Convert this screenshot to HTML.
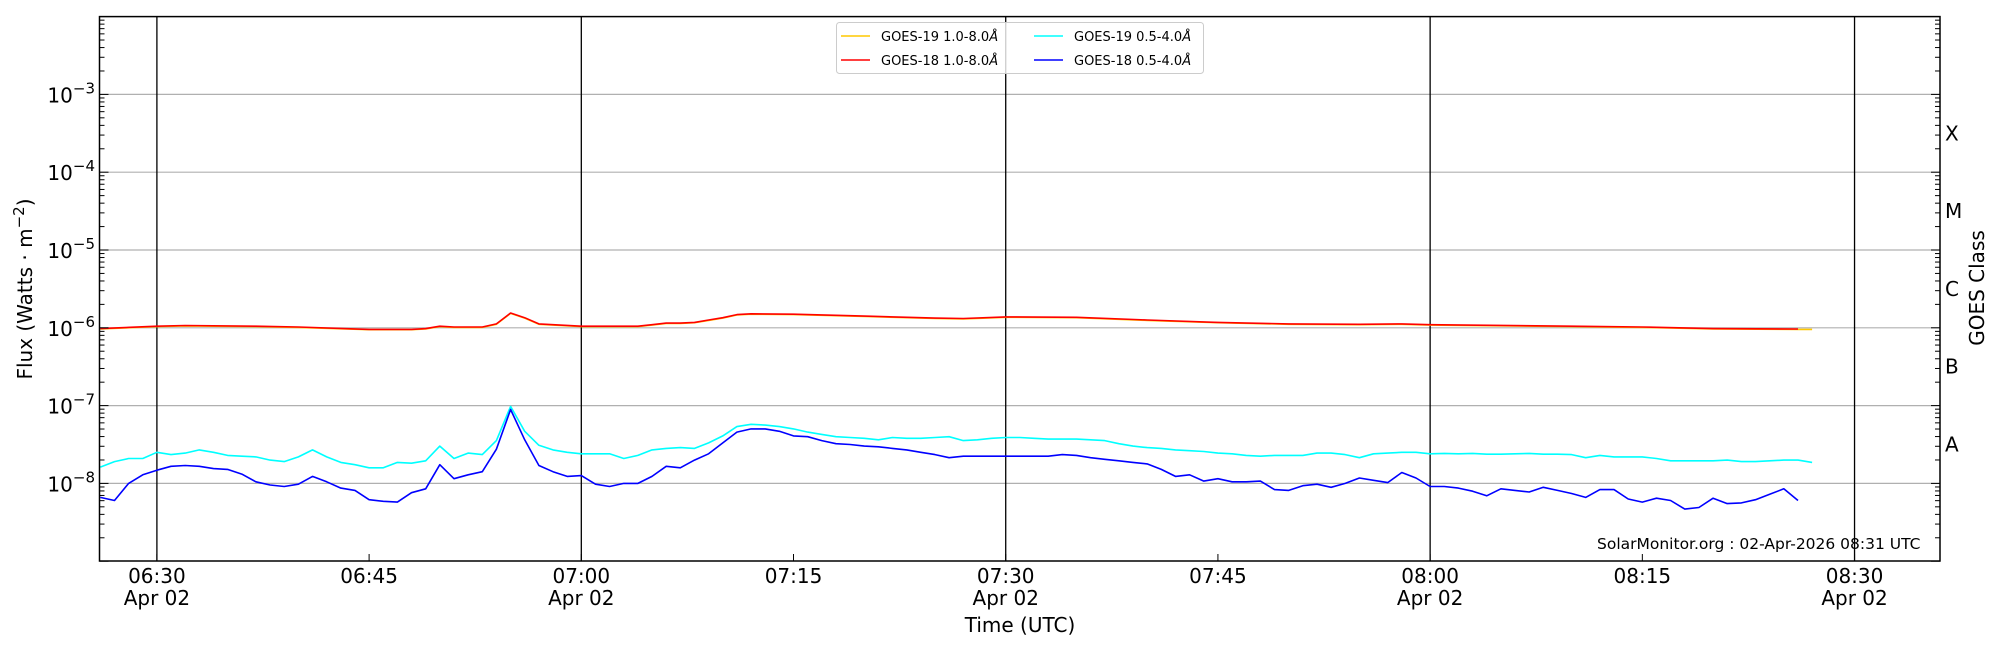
<!DOCTYPE html>
<html><head><meta charset="utf-8"><style>
html,body{margin:0;padding:0;background:#fff;}
svg{display:block;font-family:"DejaVu Sans","Liberation Sans",sans-serif;}
</style></head><body>
<svg id="s" width="2000" height="650" viewBox="0 0 2000 650" xmlns="http://www.w3.org/2000/svg">
<rect width="2000" height="650" fill="#fff"/>
<g id="grid"></g>
<g id="data" fill="none" stroke-width="1.6" stroke-linejoin="round"></g>
<g id="frame"></g>
<g id="labels" font-size="20" fill="#000"></g>
<text x="1597" y="549" font-size="15.5">SolarMonitor.org : 02-Apr-2026 08:31 UTC</text>
<g font-size="13">
<rect x="836.5" y="22.5" width="367" height="51" fill="#fff" fill-opacity="0.8" stroke="#ccc" rx="3"/>
<line x1="841" y1="36" x2="870" y2="36" stroke="#ffc800" stroke-width="1.5"/>
<text x="881" y="41">GOES-19 1.0-8.0<tspan font-style="italic">Å</tspan></text>
<line x1="841" y1="60" x2="870" y2="60" stroke="#ff0000" stroke-width="1.5"/>
<text x="881" y="65">GOES-18 1.0-8.0<tspan font-style="italic">Å</tspan></text>
<line x1="1034" y1="36" x2="1063" y2="36" stroke="#00ffff" stroke-width="1.5"/>
<text x="1074" y="41">GOES-19 0.5-4.0<tspan font-style="italic">Å</tspan></text>
<line x1="1034" y1="60" x2="1063" y2="60" stroke="#0000ff" stroke-width="1.5"/>
<text x="1074" y="65">GOES-18 0.5-4.0<tspan font-style="italic">Å</tspan></text>
</g>
</svg>
<script>
const L=99.5,R=1940,T=16.6,B=561;
const X=t=>156.9+t*14.147;
const Y=v=>T+(-2-v)*77.8;
const NS="http://www.w3.org/2000/svg";
function el(p,tag,a,txt){const e=document.createElementNS(NS,tag);for(const k in a)e.setAttribute(k,a[k]);if(txt!=null)e.textContent=txt;p.appendChild(e);return e;}
const g=document.getElementById('grid'),f=document.getElementById('frame'),lb=document.getElementById('labels'),d=document.getElementById('data');
for(let e=-8;e<=-3;e++)el(g,'line',{x1:L,x2:R,y1:Y(e),y2:Y(e),stroke:'#b0b0b0','stroke-width':1.2});
for(let t=0;t<=120;t+=30)el(g,'line',{x1:X(t),x2:X(t),y1:T,y2:B,stroke:'#000','stroke-width':1.3});
el(f,'rect',{x:L,y:T,width:R-L,height:B-T,fill:'none',stroke:'#000','stroke-width':1.5});
for(let e=-9;e<-2;e++){for(let m=1;m<10;m++){const y=Y(e+Math.log10(m));if(y<T-0.5||y>B+0.5)continue;const len=m==1?9:5;
 el(f,'line',{x1:L,x2:L+len,y1:y,y2:y,stroke:'#000','stroke-width':1});
 el(f,'line',{x1:R,x2:R-len,y1:y,y2:y,stroke:'#000','stroke-width':1});}}
for(let t=-0;t<=120;t+=15){el(f,'line',{x1:X(t),x2:X(t),y1:B,y2:B-7,stroke:'#000','stroke-width':1});}
for(let e=-8;e<=-3;e++){const t=el(lb,'text',{x:95,y:Y(e)+8,'text-anchor':'end'});t.innerHTML='10<tspan font-size="15" dy="-9">−'+(-e)+'</tspan>';}
const times=['06:30','06:45','07:00','07:15','07:30','07:45','08:00','08:15','08:30'];
times.forEach((s,i)=>{const x=X(i*15);el(lb,'text',{x:x,y:583,'text-anchor':'middle'},s);if(i%2==0)el(lb,'text',{x:x,y:605,'text-anchor':'middle'},'Apr 02');});
el(lb,'text',{x:1020,y:632,'text-anchor':'middle'},'Time (UTC)');
const yl=el(lb,'text',{x:0,y:0,'text-anchor':'middle',transform:'translate(32,289) rotate(-90)'});yl.innerHTML='Flux (Watts · m<tspan font-size="15" dy="-8">−2</tspan><tspan dy="8">)</tspan>';
['A','B','C','M','X'].forEach((c,i)=>el(lb,'text',{x:1945,y:Y(-7.5-(-i))+7},c));
el(lb,'text',{x:0,y:0,'text-anchor':'middle',transform:'translate(1984,288) rotate(-90)'},'GOES Class');
function path(pts,col,w){el(d,'polyline',{points:pts.map(p=>X(p[0]).toFixed(1)+','+Y(p[1]).toFixed(1)).join(' '),stroke:col,'stroke-width':w||1.6});}
const red=[[-4,-6.01],[0,-5.98],[2,-5.97],[7,-5.98],[10,-5.99],[15,-6.02],[18,-6.02],[19,-6.01],[20,-5.98],[21,-5.99],[22,-5.99],[23,-5.99],[24,-5.95],[25,-5.81],[26,-5.87],[27,-5.95],[30,-5.98],[34,-5.98],[35,-5.96],[36,-5.94],[37,-5.94],[38,-5.93],[39,-5.90],[40,-5.87],[41,-5.83],[42,-5.82],[45,-5.825],[50,-5.85],[55,-5.875],[57,-5.88],[60,-5.86],[65,-5.865],[70,-5.90],[75,-5.93],[80,-5.95],[85,-5.955],[88,-5.95],[90,-5.96],[100,-5.98],[105,-5.99],[110,-6.01],[116,-6.015]];
const cyan=[-7.79,-7.72,-7.68,-7.68,-7.60,-7.63,-7.61,-7.57,-7.60,-7.64,-7.65,-7.66,-7.70,-7.72,-7.66,-7.57,-7.66,-7.73,-7.76,-7.80,-7.80,-7.73,-7.74,-7.71,-7.52,-7.68,-7.61,-7.63,-7.45,-7.01,-7.33,-7.51,-7.57,-7.60,-7.62,-7.62,-7.62,-7.68,-7.64,-7.57,-7.55,-7.54,-7.55,-7.48,-7.39,-7.27,-7.24,-7.25,-7.27,-7.30,-7.34,-7.37,-7.40,-7.41,-7.42,-7.44,-7.41,-7.42,-7.42,-7.41,-7.40,-7.45,-7.44,-7.42,-7.41,-7.41,-7.42,-7.43,-7.43,-7.43,-7.44,-7.45,-7.49,-7.52,-7.54,-7.55,-7.57,-7.58,-7.59,-7.61,-7.62,-7.64,-7.65,-7.64,-7.64,-7.64,-7.61,-7.61,-7.63,-7.67,-7.62,-7.61,-7.60,-7.60,-7.62,-7.615,-7.62,-7.615,-7.625,-7.625,-7.62,-7.615,-7.625,-7.625,-7.63,-7.67,-7.64,-7.66,-7.66,-7.66,-7.68,-7.71,-7.71,-7.71,-7.71,-7.70,-7.72,-7.72,-7.71,-7.70,-7.70,-7.73];
const blue=[-8.18,-8.22,-8.0,-7.89,-7.83,-7.78,-7.77,-7.78,-7.81,-7.82,-7.88,-7.98,-8.02,-8.04,-8.01,-7.91,-7.98,-8.06,-8.09,-8.21,-8.23,-8.24,-8.12,-8.07,-7.76,-7.94,-7.89,-7.85,-7.56,-7.05,-7.44,-7.77,-7.85,-7.91,-7.90,-8.01,-8.04,-8.0,-8.0,-7.91,-7.78,-7.80,-7.70,-7.62,-7.48,-7.34,-7.30,-7.30,-7.33,-7.39,-7.40,-7.45,-7.49,-7.50,-7.52,-7.53,-7.55,-7.57,-7.60,-7.63,-7.67,-7.65,-7.65,-7.65,-7.65,-7.65,-7.65,-7.65,-7.63,-7.64,-7.67,-7.69,-7.71,-7.73,-7.75,-7.82,-7.91,-7.89,-7.97,-7.94,-7.98,-7.98,-7.97,-8.08,-8.09,-8.03,-8.01,-8.05,-8.00,-7.93,-7.96,-7.99,-7.86,-7.93,-8.04,-8.04,-8.06,-8.10,-8.16,-8.07,-8.09,-8.11,-8.05,-8.09,-8.13,-8.18,-8.08,-8.08,-8.20,-8.24,-8.19,-8.22,-8.33,-8.31,-8.19,-8.26,-8.25,-8.21,-8.14,-8.07,-8.22];
const yellow=red.map(p=>[p[0],p[1]-0.005]).concat([[117,-6.02]]);
path(yellow,'#ffc800');
path(cyan.map((v,i)=>[i-4,v]),'#00ffff');
path(red,'#ff0000');
path(blue.map((v,i)=>[i-4,v]),'#0000ff');
</script>
</body></html>
